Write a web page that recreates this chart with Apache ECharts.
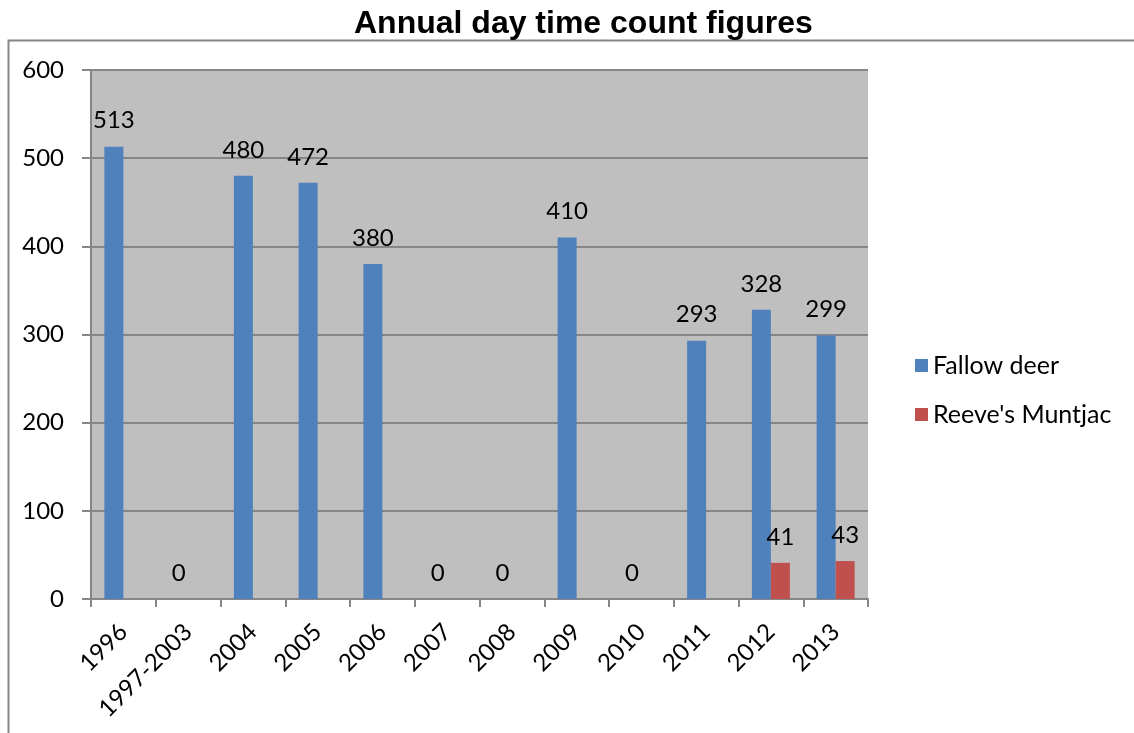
<!DOCTYPE html>
<html><head><meta charset="utf-8">
<script src="https://cdn.jsdelivr.net/npm/echarts@6/dist/echarts.min.js"></script>
<style>html,body{margin:0;padding:0;background:#fff}#c{width:1134px;height:733px}</style>
</head><body><div id="c"></div>
<script>
const categories = ['1996','1997-2003','2004','2005','2006','2007','2008','2009','2010','2011','2012','2013'];
const fallowDeer = [513,0,480,472,380,0,0,410,0,293,328,299];
const muntjac = [null,null,null,null,null,null,null,null,null,null,41,43];
const seriesNames = ['Fallow deer',"Reeve's Muntjac"];
const titleText = 'Annual day time count figures';

const chart = echarts.init(document.getElementById('c'));
const font = 'Lato';
const fs = 24;
const labelCfg = {show:true, position:'top', distance:14, color:'#000', fontFamily:font, fontSize:fs};
chart.setOption({
  animation:false,
  backgroundColor:'#fff',
  title:{text:titleText, left:349, top:3, textStyle:{fontFamily:'Liberation Sans', fontWeight:'bold', fontSize:32, color:'#000'}},
  graphic:[{type:'polyline', shape:{points:[[8.5,733],[8.5,40.5],[1134,40.5]]}, style:{stroke:'#868686', lineWidth:2, fill:null}, silent:true}],
  legend:{orient:'vertical', left:910, top:348, itemWidth:13, itemHeight:13, itemGap:24, icon:'rect',
    textStyle:{fontFamily:font, fontSize:25, color:'#000'}, data:seriesNames},
  grid:{left:91, right:266, top:70, bottom:134, backgroundColor:'#bfbfbf', show:true, borderWidth:0},
  xAxis:{type:'category', data:categories,
    axisLine:{lineStyle:{color:'#868686', width:2}},
    axisTick:{show:true, length:8, lineStyle:{color:'#868686', width:2}},
    axisLabel:{rotate:45, fontFamily:font, fontSize:fs, color:'#000', margin:29}},
  yAxis:{type:'value', min:0, max:600, interval:100,
    axisLine:{show:true, lineStyle:{color:'#868686', width:2}},
    axisTick:{show:true, length:9, lineStyle:{color:'#868686', width:2}},
    splitLine:{lineStyle:{color:'#868686', width:2}},
    axisLabel:{fontFamily:font, fontSize:fs, color:'#000', margin:27}},
  series:[
    {name:seriesNames[0], type:'bar', data:fallowDeer, barWidth:19, barGap:'0%', itemStyle:{color:'#4f81bd'}, label:labelCfg},
    {name:seriesNames[1], type:'bar', data:muntjac, barWidth:19, barGap:'0%', itemStyle:{color:'#c0504d'}, label:labelCfg}
  ]
});
</script></body></html>
